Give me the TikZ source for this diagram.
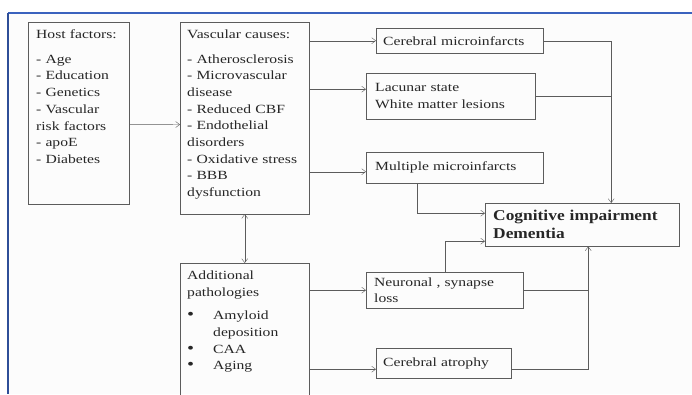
\documentclass[tikz,border=0pt]{standalone}
\usepackage{fontspec}
\setmainfont{Liberation Serif}[FakeStretch=1.25, BoldFeatures={FakeStretch=1.16}]
\usetikzlibrary{positioning, arrows.meta}
\definecolor{frameblue}{HTML}{3A62BE}
\definecolor{linegray}{HTML}{5C5C5C}
\newcommand{\itembul}{\makebox[26pt][l]{\fontsize{16}{16}\selectfont\textbullet}}
\tikzset{
  box/.style = {
    shape = rectangle,
    draw = linegray,
    anchor = north west,
    align = left,
    inner xsep = 8pt,
    inner ysep = 0pt,
    text = black!85,
    font = \fontsize{12.5}{16.7}\selectfont,
  }
}
\tikzset{
  arrow1/.style = {
    draw = linegray, -{Straight Barb[length = 4pt, width = 6pt]},
  },
  arrow2/.style = {
    draw = linegray, {Straight Barb[length = 4pt, width = 6pt]}-{Straight Barb[length = 4pt, width = 6pt]},
  },
  line1/.style = {draw = linegray},
}

\begin{document}
\begin{tikzpicture}[x = 1pt, y = -1pt]
            \clip (0,0) rectangle (692,394);
            \fill[black!1] (8,13) rectangle (692,394);
            \draw[frameblue, line width = 1.3pt] (692,13) -- (8,13);
            \draw[frameblue!80!black, line width = 2pt] (8,13) -- (8,394);
            % left column
            \node[box, text width = 85pt, inner ysep = 7.5pt, text depth = 158pt](host) at (28,22)
                {Host factors:\\[8pt] - Age\\ - Education\\ - Genetics\\ - Vascular\\ risk factors\\ - apoE\\ - Diabetes};
            \node[box, text width = 115pt, inner xsep = 7pt, inner ysep = 7.5pt, text depth = 168pt](vasc) at (180,22)
                {Vascular causes:\\[8pt] - Atherosclerosis\\ - Microvascular\\ disease\\ - Reduced CBF\\ - Endothelial\\ disorders\\ - Oxidative stress\\ - BBB\\ dysfunction};
            \node[box, text width = 115pt, inner xsep = 7pt, inner ysep = 7.5pt, text depth = 130pt](add) at (180,263)
                {Additional\\ pathologies\\[7pt]
                 \itembul Amyloid\\ \hspace*{26pt}deposition\\
                 \itembul CAA\\ \itembul Aging};
            % right column
            \node[box, text width = 153pt, inner xsep = 7pt, minimum height = 25pt](cmi) at (376,28) {Cerebral microinfarcts};
            \node[box, text width = 151pt, inner xsep = 9pt, minimum height = 46pt](lac) at (366,73) {Lacunar state\\ White matter lesions};
            \node[box, text width = 159pt, inner xsep = 9pt, minimum height = 31pt](mult) at (366,152) {Multiple microinfarcts};
            \node[box, text width = 178pt, minimum height = 43pt, font = \bfseries\fontsize{15}{18}\selectfont](cog) at (485,203)
                {Cognitive impairment\\ Dementia};
            \node[box, text width = 141pt, minimum height = 36pt](neu) at (366,272) {Neuronal , synapse\\ loss};
            \node[box, text width = 121pt, inner xsep = 7pt, minimum height = 30pt](atr) at (376,348) {Cerebral atrophy};
            % helper points
            \coordinate (lacin) at ([yshift = 7pt]lac.west);
            \coordinate (multin) at ([yshift = -4pt]mult.west);
            \coordinate (atrin) at ([yshift = -6pt]atr.west);
            \coordinate (cogtop) at ([xshift = 29pt]cog.north);
            \coordinate (cogbot) at ([xshift = 6pt]cog.south);
            % connectors
            \draw[arrow1]([yshift = -11.5pt]host.east) -- ([yshift = -6.5pt]vasc.west);
            \draw[arrow1](vasc.east |- cmi.west) -- (cmi.west);
            \draw[arrow1](vasc.east |- lacin) -- (lacin);
            \draw[arrow1](vasc.east |- multin) -- (multin);
            \draw[arrow2](vasc.south) -- (add.north);
            \draw[arrow1](add.east |- neu.west) -- (neu.west);
            \draw[arrow1](add.east |- atrin) -- (atrin);
            \draw[arrow1](cmi.east) -| (cogtop);
            \draw[line1](lac.east) -- (lac.east -| cogtop);
            \draw[arrow1]([xshift = -37.5pt]mult.south) |- ([yshift = 11.5pt]cog.west);
            \draw[arrow1](neu.north) |- ([yshift = -16.5pt]cog.west);
            \draw[arrow1]([yshift = -6pt]atr.east) -| (cogbot);
            \draw[line1](neu.east) -- (neu.east -| cogbot);
        \end{tikzpicture}
\end{document}
